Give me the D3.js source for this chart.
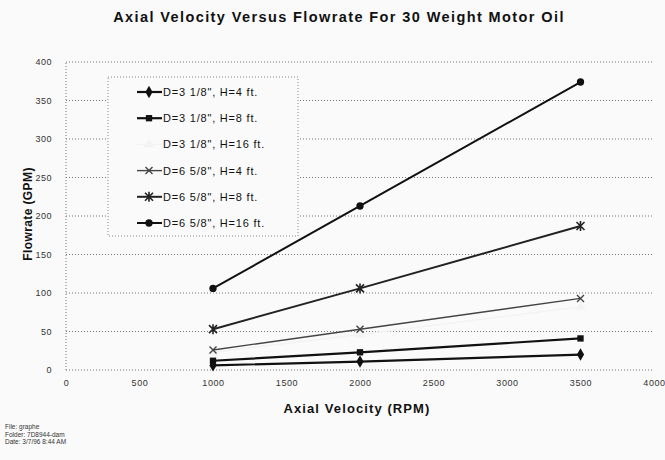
<!DOCTYPE html>
<html><head><meta charset="utf-8">
<script src="https://cdn.jsdelivr.net/npm/d3@7"></script>
<style>body{margin:0;background:#fafafa}svg{display:block;font-family:"Liberation Sans",Arial,sans-serif}</style>
</head><body>
<script>
const rpm = [1000, 2000, 3500];
const seriesNames = ['D=3 1/8", H=4 ft.', 'D=3 1/8", H=8 ft.', 'D=3 1/8", H=16 ft.', 'D=6 5/8", H=4 ft.', 'D=6 5/8", H=8 ft.', 'D=6 5/8", H=16 ft.'];
const d3h4 = [6, 11, 20];
const d3h8 = [12, 23, 41];
const d3h16 = [23, 46, 82];
const d6h4 = [26, 53, 93];
const d6h8 = [53, 106, 187];
const d6h16 = [106, 213, 374];
const xTicks = [0, 500, 1000, 1500, 2000, 2500, 3000, 3500, 4000];
const yTicks = [0, 50, 100, 150, 200, 250, 300, 350, 400];
const footer = ["File: graphe", "Folder: 7D8944-dam", "Date: 3/7/96 8:44 AM"];

const series = [
  {name: seriesNames[0], values: d3h4, marker: "diamond", color: "#111", width: 2.2},
  {name: seriesNames[1], values: d3h8, marker: "square", color: "#111", width: 2.2},
  {name: seriesNames[2], values: d3h16, marker: "triangle", color: "#f3f3f3", width: 1.5},
  {name: seriesNames[3], values: d6h4, marker: "x", color: "#444", width: 1.4},
  {name: seriesNames[4], values: d6h8, marker: "star", color: "#222", width: 2},
  {name: seriesNames[5], values: d6h16, marker: "circle", color: "#111", width: 2}
];

const W = 665, H = 460;
const svg = d3.select("body").append("svg").attr("width", W).attr("height", H);
svg.append("rect").attr("width", W).attr("height", H).attr("fill", "#fafafa");

const x = d3.scaleLinear().domain([0, 4000]).range([66, 654]);
const y = d3.scaleLinear().domain([0, 400]).range([370, 62]);

// gridlines
svg.append("g").selectAll("line").data(yTicks).join("line")
  .attr("x1", x(0)).attr("x2", x(4000)).attr("y1", d => y(d)).attr("y2", d => y(d))
  .attr("stroke", "#777").attr("stroke-width", 1).attr("stroke-dasharray", "1,2");
svg.append("line").attr("x1", x(0)).attr("x2", x(0)).attr("y1", y(0)).attr("y2", y(400))
  .attr("stroke", "#777").attr("stroke-dasharray", "1,2");

// axes
const yAxis = d3.axisLeft(y).tickValues(yTicks).tickFormat(d3.format("d")).tickSize(0).tickPadding(14);
const gy = svg.append("g").attr("transform", `translate(${x(0)},0)`).call(yAxis);
gy.select(".domain").remove();
gy.selectAll("text").attr("font-size", 9).attr("fill", "#333").attr("letter-spacing", 0.5);

const xAxis = d3.axisBottom(x).tickValues(xTicks).tickFormat(d3.format("d")).tickSize(0).tickPadding(10);
const gx = svg.append("g").attr("transform", `translate(0,${y(0)})`).call(xAxis);
gx.select(".domain").remove();
gx.selectAll("text").attr("font-size", 9).attr("fill", "#333").attr("letter-spacing", 0.6);

// titles
svg.append("text").attr("x", 339).attr("y", 22).attr("text-anchor", "middle")
  .attr("font-weight", "bold").attr("font-size", 14.5).attr("letter-spacing", 1.4).attr("fill", "#111")
  .text("Axial Velocity Versus Flowrate For 30 Weight Motor Oil");
svg.append("text").attr("x", 357).attr("y", 413).attr("text-anchor", "middle")
  .attr("font-weight", "bold").attr("font-size", 13).attr("letter-spacing", 1.1).attr("fill", "#111")
  .text("Axial Velocity (RPM)");
svg.append("text").attr("transform", "translate(32,214) rotate(-90)").attr("text-anchor", "middle")
  .attr("font-weight", "bold").attr("font-size", 12).attr("letter-spacing", 0.4).attr("fill", "#111")
  .text("Flowrate (GPM)");

function drawMarker(g, type, color) {
  const sym = {diamond: d3.symbolDiamond, square: d3.symbolSquare, triangle: d3.symbolTriangle,
               circle: d3.symbolCircle};
  if (type === "x") {
    g.append("path").attr("d", "M-3.5,-3.5L3.5,3.5M-3.5,3.5L3.5,-3.5")
      .attr("fill", "none").attr("stroke", color).attr("stroke-width", 1.4);
  } else if (type === "star") {
    g.append("path").attr("d", "M-4,-4L4,4M-4,4L4,-4M0,-5L0,5")
      .attr("fill", "none").attr("stroke", color).attr("stroke-width", 1.6);
  } else {
    const size = type === "circle" ? 42 : type === "square" ? 40 : 45;
    g.append("path").attr("d", d3.symbol().type(sym[type]).size(size)()).attr("fill", color);
  }
}

const line = d3.line().x((d, i) => x(rpm[i])).y(d => y(d));
series.forEach(s => {
  svg.append("path").datum(s.values).attr("d", line)
    .attr("fill", "none").attr("stroke", s.color).attr("stroke-width", s.width);
  s.values.forEach((v, i) => {
    const g = svg.append("g").attr("transform", `translate(${x(rpm[i])},${y(v)})`);
    drawMarker(g, s.marker, s.color);
  });
});

// legend
const lg = svg.append("g");
lg.append("rect").attr("x", 108).attr("y", 77).attr("width", 190).attr("height", 159)
  .attr("fill", "#fafafa").attr("stroke", "#888").attr("stroke-dasharray", "1,2");
series.forEach((s, i) => {
  const yy = 92 + i * 26.2;
  lg.append("line").attr("x1", 137).attr("x2", 162).attr("y1", yy).attr("y2", yy)
    .attr("stroke", s.color).attr("stroke-width", s.width);
  const g = lg.append("g").attr("transform", `translate(149,${yy})`);
  drawMarker(g, s.marker, s.color);
  lg.append("text").attr("x", 163).attr("y", yy + 4).attr("font-size", 11).attr("letter-spacing", 0.8)
    .attr("fill", "#111").text(s.name);
});

// footer
svg.append("g").selectAll("text").data(footer).join("text")
  .attr("x", 5).attr("y", (d, i) => 429 + i * 7.5).attr("font-size", 6.5).attr("fill", "#333").text(d => d);
</script>
</body></html>
